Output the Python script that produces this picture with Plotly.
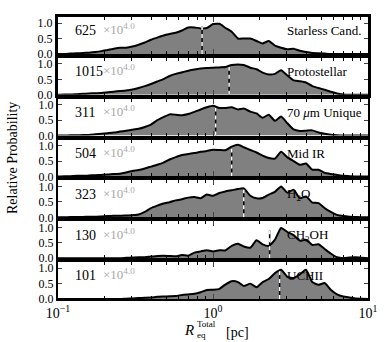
import plotly.graph_objects as go
from plotly.subplots import make_subplots

# shared radius grid (pc), 0.04 dex steps
radius_pc = [0.100, 0.110, 0.120, 0.132, 0.145, 0.158, 0.174, 0.191, 0.209, 0.229,
             0.251, 0.275, 0.302, 0.331, 0.363, 0.398, 0.437, 0.479, 0.525, 0.575,
             0.631, 0.692, 0.759, 0.832, 0.912, 1.00, 1.10, 1.20, 1.32, 1.45,
             1.58, 1.74, 1.91, 2.09, 2.29, 2.51, 2.75, 3.02, 3.31, 3.63,
             3.98, 4.37, 4.79, 5.25, 5.75, 6.31, 6.92, 7.59, 8.32, 9.12, 10.0]

starless = [0.0, 0.0, 0.01, 0.02, 0.03, 0.04, 0.06, 0.09, 0.13, 0.17,
            0.2, 0.2, 0.24, 0.3, 0.37, 0.46, 0.53, 0.6, 0.65, 0.69,
            0.76, 0.86, 0.86, 0.83, 0.84, 0.97, 0.98, 0.85, 0.72, 0.5,
            0.5, 0.5, 0.42, 0.34, 0.42, 0.27, 0.2, 0.15, 0.17, 0.1,
            0.06, 0.03, 0.02, 0.01, 0.0, 0.0, 0.0, 0.0, 0.0, 0.0, 0.0]
protostellar = [0.0, 0.01, 0.01, 0.02, 0.03, 0.04, 0.05, 0.06, 0.08, 0.1,
                0.12, 0.14, 0.17, 0.22, 0.28, 0.35, 0.43, 0.51, 0.61, 0.68,
                0.73, 0.78, 0.82, 0.85, 0.87, 0.88, 0.89, 0.9, 0.97, 0.98,
                0.97, 0.88, 0.83, 0.72, 0.66, 0.68, 0.8, 0.62, 0.47, 0.44,
                0.4, 0.28, 0.22, 0.16, 0.1, 0.04, 0.01, 0.0, 0.0, 0.0, 0.0]
unique70 = [0.0, 0.0, 0.01, 0.01, 0.02, 0.02, 0.04, 0.06, 0.08, 0.1,
            0.13, 0.16, 0.19, 0.22, 0.28, 0.36, 0.5, 0.6, 0.69, 0.68,
            0.66, 0.7, 0.77, 0.85, 0.92, 0.97, 0.9, 0.9, 0.92, 0.85,
            0.88, 0.78, 0.72, 0.58, 0.68, 0.48, 0.62, 0.4, 0.2, 0.15,
            0.16, 0.17, 0.1, 0.06, 0.03, 0.01, 0.0, 0.0, 0.0, 0.0, 0.0]
mid_ir = [0.0, 0.01, 0.01, 0.02, 0.02, 0.03, 0.04, 0.05, 0.06, 0.08,
          0.09, 0.13, 0.18, 0.21, 0.26, 0.32, 0.38, 0.45, 0.55, 0.63,
          0.7, 0.73, 0.76, 0.8, 0.83, 0.87, 0.86, 0.85, 0.97, 1.03,
          0.95, 0.86, 0.78, 0.68, 0.6, 0.58, 0.8, 0.62, 0.5, 0.38,
          0.42, 0.22, 0.22, 0.12, 0.08, 0.05, 0.02, 0.01, 0.0, 0.0, 0.0]
h2o = [0.0, 0.0, 0.01, 0.01, 0.01, 0.02, 0.02, 0.03, 0.04, 0.05,
       0.05, 0.06, 0.07, 0.09, 0.18, 0.3, 0.38, 0.45, 0.49, 0.55,
       0.59, 0.64, 0.66, 0.62, 0.74, 0.7, 0.79, 0.84, 0.88, 0.92,
       0.94, 0.7, 0.62, 0.63, 0.74, 0.83, 1.0, 0.8, 0.9, 0.62,
       0.68, 0.48, 0.46, 0.3, 0.18, 0.08, 0.04, 0.02, 0.01, 0.0, 0.0]
ch3oh = [0.0, 0.0, 0.0, 0.0, 0.0, 0.0, 0.0, 0.0, 0.0, 0.0,
         0.0, 0.01, 0.02, 0.03, 0.03, 0.05, 0.07, 0.08, 0.07, 0.06,
         0.1, 0.08, 0.18, 0.22, 0.26, 0.22, 0.26, 0.25, 0.4, 0.47,
         0.38, 0.34, 0.58, 0.45, 0.4, 0.6, 0.98, 0.85, 0.75, 0.57,
         0.6, 0.43, 0.45, 0.3, 0.15, 0.03, 0.0, 0.02, 0.03, 0.01, 0.0]
uchii = [0.0, 0.0, 0.0, 0.0, 0.0, 0.0, 0.0, 0.0, 0.0, 0.0,
         0.0, 0.01, 0.02, 0.03, 0.04, 0.05, 0.07, 0.08, 0.09, 0.1,
         0.13, 0.15, 0.17, 0.22, 0.29, 0.3, 0.33, 0.47, 0.58, 0.55,
         0.42, 0.5, 0.38, 0.55, 0.65, 0.84, 0.95, 0.72, 0.68, 0.8,
         0.95, 0.55, 0.46, 0.52, 0.3, 0.15, 0.08, 0.05, 0.02, 0.01, 0.0]

series = [starless, protostellar, unique70, mid_ir, h2o, ch3oh, uchii]
labels = ['Starless Cand.', 'Protostellar', '70 <i>μ</i>m Unique', 'Mid IR',
          'H<sub>2</sub>O', 'CH<sub>3</sub>OH', 'UCHII']
counts = [625, 1015, 311, 504, 323, 130, 101]
medians = [0.85, 1.27, 1.04, 1.32, 1.58, 2.32, 2.69]

minor_ticks = [m * d for d in (0.1, 1) for m in range(2, 10)]

FONT = 'Liberation Serif'
n = len(series)

fig = make_subplots(rows=n, cols=1, shared_xaxes=True, vertical_spacing=0.014)

for i, (ys, lab, cnt, med) in enumerate(zip(series, labels, counts, medians)):
    r = i + 1
    fig.add_trace(go.Scatter(x=radius_pc, y=ys, mode='lines', fill='tozeroy',
                             fillcolor='#808080',
                             line=dict(color='black', width=2, shape='spline', smoothing=0.5)),
                  row=r, col=1)
    # median marker: black line with white dashes on top
    fig.add_trace(go.Scatter(x=[med, med], y=[0, 0.9], mode='lines',
                             line=dict(color='black', width=1.5)), row=r, col=1)
    fig.add_trace(go.Scatter(x=[med, med], y=[0, 0.9], mode='lines',
                             line=dict(color='white', width=1.5, dash='4px,4px')), row=r, col=1)

    xa = 'x' if r == 1 else f'x{r}'
    ya = 'y' if r == 1 else f'y{r}'
    fig.add_annotation(x=-0.905, y=0.75, xref=xa, yref=ya, text=str(cnt), showarrow=False,
                       xanchor='left', yanchor='middle', font=dict(size=14, color='black'))
    fig.add_annotation(x=-0.72, y=0.8, xref=xa, yref=ya, text='×10<sup>4.0</sup>',
                       showarrow=False, xanchor='left', yanchor='middle',
                       font=dict(size=13, color='#a8a8a8'))
    fig.add_annotation(x=0.465, y=0.75, xref=xa, yref=ya, text=lab, showarrow=False,
                       xanchor='left', yanchor='middle', font=dict(size=13, color='black'))

    lw = 3 if r <= 2 else 2
    fig.update_yaxes(row=r, col=1, range=[0, 1.2], tickvals=[0, 0.5, 1.0],
                     ticktext=['0.0', '0.5', '1.0'], ticks='inside', ticklen=4,
                     mirror='allticks', showline=True, linecolor='black', linewidth=lw,
                     showgrid=False, zeroline=False, tickfont=dict(size=12))
    fig.update_xaxes(row=r, col=1, type='log', range=[-1, 1], tickvals=[0.1, 1, 10],
                     ticktext=['10<sup>−1</sup>', '10<sup>0</sup>', '10<sup>1</sup>'],
                     ticks='inside', ticklen=5, mirror='allticks', showline=True,
                     linecolor='black', linewidth=lw, showgrid=False, zeroline=False,
                     minor=dict(ticks='inside', ticklen=3, tickvals=minor_ticks,
                                tickcolor='black', tickwidth=1, showgrid=False),
                     tickfont=dict(size=14))

fig.add_annotation(x=0, y=0.5, xref='paper', yref='paper', xanchor='center', yanchor='middle',
                   text='Relative Probability', textangle=-90, showarrow=False,
                   font=dict(size=14, color='black'), xshift=-46)

# x axis title: R with stacked super/subscript
fig.add_annotation(x=0.5, y=0, xref='paper', yref='paper', xanchor='right', yanchor='middle',
                   text='<i>R</i>', showarrow=False, font=dict(size=15, color='black'),
                   xshift=-17, yshift=-31)
fig.add_annotation(x=0.5, y=0, xref='paper', yref='paper', xanchor='left', yanchor='middle',
                   text='Total', showarrow=False, font=dict(size=9, color='black'),
                   xshift=-18, yshift=-25)
fig.add_annotation(x=0.5, y=0, xref='paper', yref='paper', xanchor='left', yanchor='middle',
                   text='eq', showarrow=False, font=dict(size=9, color='black'),
                   xshift=-18, yshift=-36)
fig.add_annotation(x=0.5, y=0, xref='paper', yref='paper', xanchor='left', yanchor='middle',
                   text='[pc]', showarrow=False, font=dict(size=14, color='black'),
                   xshift=11, yshift=-33)

fig.update_layout(width=390, height=342, showlegend=False,
                  margin=dict(l=58, r=19, t=17, b=43),
                  paper_bgcolor='white', plot_bgcolor='white',
                  font=dict(family=FONT, color='black'))

# page has a default 8px body margin; drop it so the figure sits at (0, 0)
fig.write_html('out.html', config={'displayModeBar': False},
               post_script="document.body.style.margin='0';")
